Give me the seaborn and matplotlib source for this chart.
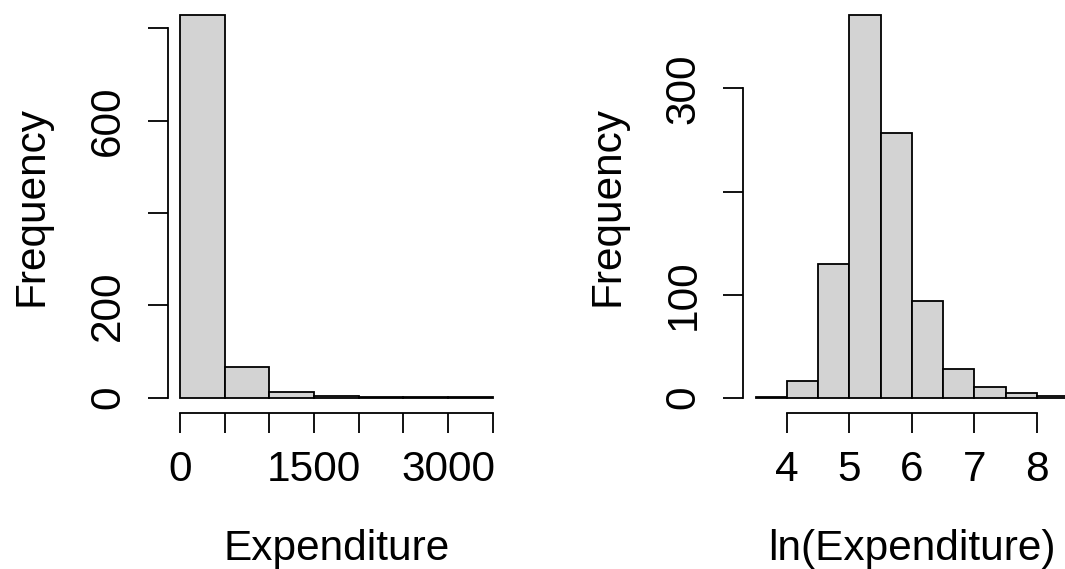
"""
plot.py

Two side-by-side histograms (raw vs log expenditure), drawn in the look of
base-R hist() output: light grey bars, detached axes, rotated y labels.
"""

import matplotlib
matplotlib.use("Agg")
import matplotlib.pyplot as plt
import pandas as pd
import seaborn as sns

# ---- data ----
exp_edges = [0, 500, 1000, 1500, 2000, 2500, 3000, 3500]
exp_counts = [828, 67, 12, 4, 2, 1, 2]

log_edges = [3.5, 4.0, 4.5, 5.0, 5.5, 6.0, 6.5, 7.0, 7.5, 8.0, 8.5]
log_counts = [1, 16, 130, 371, 257, 94, 28, 10, 5, 2]

exp_xticks = [0, 500, 1000, 1500, 2000, 2500, 3000, 3500]
exp_xticklabels = ["0", "", "", "1500", "", "", "3000", ""]
exp_yticks = [0, 200, 400, 600, 800]
exp_yticklabels = ["0", "200", "", "600", ""]

log_xticks = [4, 5, 6, 7, 8]
log_xticklabels = ["4", "5", "6", "7", "8"]
log_yticks = [0, 100, 200, 300]
log_yticklabels = ["0", "100", "", "300"]

sns.set_theme(style="white")
plt.rcParams["font.family"] = ["Liberation Sans", "DejaVu Sans"]
plt.rcParams["text.color"] = "black"
plt.rcParams["axes.labelcolor"] = "black"
plt.rcParams["xtick.color"] = "black"
plt.rcParams["ytick.color"] = "black"

FS = 30.5
LW = 1.3
TICK_LEN = 14.4  # 20 px at dpi 100

fig = plt.figure(figsize=(10.65, 5.69), dpi=100)


def r_hist(ax, edges, counts, xticks, xlabels, yticks, ylabels, xlabel):
    edges = [float(e) for e in edges]
    mids = [(a + b) / 2 for a, b in zip(edges[:-1], edges[1:])]
    df = pd.DataFrame({"mid": mids, "n": counts})
    sns.histplot(
        data=df, x="mid", weights="n", bins=edges, ax=ax,
        color="#D3D3D3", edgecolor="black", linewidth=LW, alpha=1,
    )
    # R pads the data range by 4% on each side
    span = edges[-1] - edges[0]
    ax.set_xlim(edges[0] - 0.04 * span, edges[-1] + 0.04 * span)
    top = max(counts)
    ax.set_ylim(-0.04 * top, 1.04 * top)

    for side in ("top", "right"):
        ax.spines[side].set_visible(False)
    ax.spines["left"].set_bounds(yticks[0], yticks[-1])
    ax.spines["bottom"].set_bounds(xticks[0], xticks[-1])
    for side in ("left", "bottom"):
        ax.spines[side].set_linewidth(LW)
        ax.spines[side].set_color("black")

    ax.set_xticks(xticks)
    ax.set_xticklabels(xlabels, fontsize=FS, color="black")
    ax.set_yticks(yticks)
    ax.set_yticklabels(ylabels, fontsize=FS, rotation=90, va="center",
                       color="black")
    ax.tick_params(axis="both", direction="out", length=TICK_LEN,
                   width=LW, color="black", left=True, bottom=True)
    ax.tick_params(axis="x", pad=12)
    ax.tick_params(axis="y", pad=14)

    ax.set_xlabel(xlabel, fontsize=FS, labelpad=28, color="black")
    ax.set_ylabel("Frequency", fontsize=FS, labelpad=26, color="black")
    ax.grid(False)
    ax.patch.set_visible(False)


ax1 = fig.add_axes([0.1573, 0.2742, 0.317, 0.7258])
r_hist(ax1, exp_edges, exp_counts, exp_xticks, exp_xticklabels,
       exp_yticks, exp_yticklabels, "Expenditure")

ax2 = fig.add_axes([0.6977, 0.2742, 0.317, 0.7258])
r_hist(ax2, log_edges, log_counts, log_xticks, log_xticklabels,
       log_yticks, log_yticklabels, "ln(Expenditure)")

fig.savefig("out.png", dpi=100)
plt.close(fig)
